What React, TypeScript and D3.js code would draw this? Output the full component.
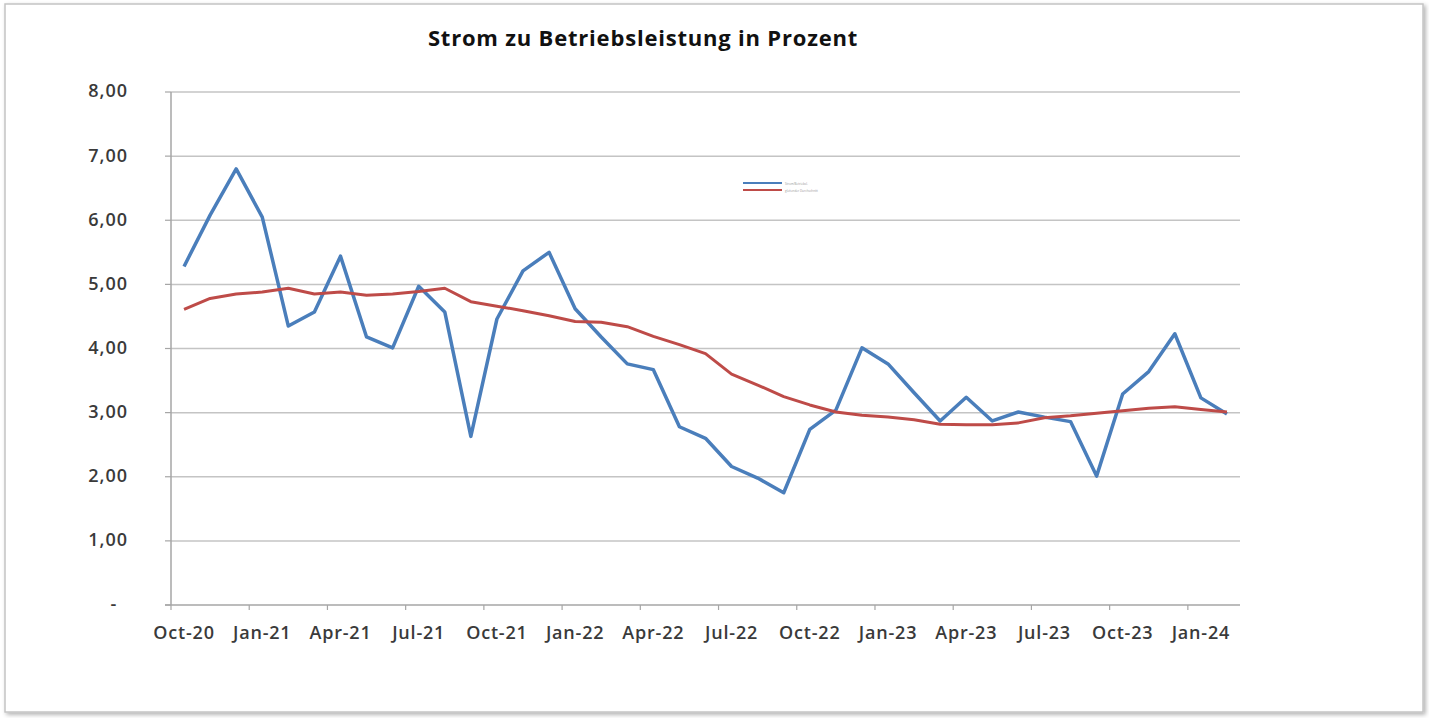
import * as d3 from "d3";
import { useEffect } from "react";

// months Oct-20 .. Feb-24
const months = [
  "Oct-20", "Nov-20", "Dec-20", "Jan-21", "Feb-21", "Mar-21", "Apr-21", "May-21", "Jun-21",
  "Jul-21", "Aug-21", "Sep-21", "Oct-21", "Nov-21", "Dec-21", "Jan-22", "Feb-22", "Mar-22",
  "Apr-22", "May-22", "Jun-22", "Jul-22", "Aug-22", "Sep-22", "Oct-22", "Nov-22", "Dec-22",
  "Jan-23", "Feb-23", "Mar-23", "Apr-23", "May-23", "Jun-23", "Jul-23", "Aug-23", "Sep-23",
  "Oct-23", "Nov-23", "Dec-23", "Jan-24", "Feb-24",
];

const stromProzent = [
  5.28, 6.08, 6.8, 6.05, 4.35, 4.57, 5.44, 4.18, 4.01, 4.97, 4.57, 2.63, 4.46, 5.21, 5.5,
  4.62, 4.18, 3.76, 3.67, 2.78, 2.6, 2.16, 1.98, 1.75, 2.74, 3.04, 4.01, 3.76, 3.31, 2.87,
  3.24, 2.87, 3.01, 2.93, 2.86, 2.01, 3.29, 3.64, 4.23, 3.23, 2.98,
];

const durchschnitt = [
  4.61, 4.78, 4.85, 4.88, 4.94, 4.85, 4.88, 4.83, 4.85, 4.89, 4.94, 4.73, 4.66, 4.59, 4.51,
  4.42, 4.41, 4.34, 4.19, 4.06, 3.92, 3.6, 3.43, 3.25, 3.12, 3.01, 2.96, 2.93, 2.89, 2.82,
  2.81, 2.81, 2.84, 2.92, 2.95, 2.99, 3.03, 3.07, 3.09, 3.05, 3.01,
];

const yTicks = [0, 1, 2, 3, 4, 5, 6, 7, 8];
const xTickLabels = months.filter((_, i) => i % 3 === 0);

const W = 1429;
const H = 718;
const plot = { left: 171, right: 1240, top: 92, bottom: 605 };
const labelFont = "'Open Sans', 'Liberation Sans', sans-serif";

export default function App() {
  useEffect(() => {
    document.body.style.margin = "0";
  }, []);

  const x = d3.scaleBand<string>().domain(months).range([plot.left, plot.right]);
  const y = d3.scaleLinear().domain([0, 8]).range([plot.bottom, plot.top]);
  const cx = (m: string) => (x(m) ?? 0) + x.bandwidth() / 2;

  const line = d3
    .line<number>()
    .x((_, i) => cx(months[i]))
    .y((d) => y(d));

  const fmt = (v: number) => (v === 0 ? "-" : v.toFixed(2).replace(".", ","));

  return (
    <svg width={W} height={H} style={{ position: "absolute", left: 0, top: 0, background: "#fff" }}>
      <defs>
        <filter id="shadow" x="-5%" y="-5%" width="110%" height="110%">
          <feDropShadow dx="2" dy="2" stdDeviation="2" floodColor="#000" floodOpacity="0.3" />
        </filter>
      </defs>

      {/* chart frame */}
      <rect x={5} y={4} width={1418} height={708} fill="#fff" stroke="#c4c4c4" strokeWidth={1.5} filter="url(#shadow)" />

      <text x={643} y={46} textAnchor="middle" fontFamily={labelFont} fontWeight="bold" fontSize={22} letterSpacing={0.8} fill="#111">
        Strom zu Betriebsleistung in Prozent
      </text>

      {/* gridlines + y labels */}
      {yTicks.map((t) => (
        <g key={t}>
          {t > 0 && (
            <line x1={plot.left} x2={plot.right} y1={y(t)} y2={y(t)} stroke="#c4c4c4" strokeWidth={1.5} />
          )}
          <line x1={plot.left - 6} x2={plot.left} y1={y(t)} y2={y(t)} stroke="#a6a6a6" strokeWidth={1.2} />
          <text
            x={t === 0 ? 114 : 128}
            y={y(t)}
            dy="0.3em"
            textAnchor={t === 0 ? "middle" : "end"}
            fontFamily={labelFont}
            fontWeight={600}
            fontSize={18}
            letterSpacing={1}
            fill="#3a3a3a"
          >
            {fmt(t)}
          </text>
        </g>
      ))}

      {/* axes */}
      <line x1={plot.left} x2={plot.left} y1={plot.top} y2={plot.bottom} stroke="#a6a6a6" strokeWidth={1.5} />
      <line x1={plot.left - 6} x2={plot.right} y1={plot.bottom} y2={plot.bottom} stroke="#a6a6a6" strokeWidth={1.5} />

      {xTickLabels.map((m) => (
        <line key={"t" + m} x1={x(m)} x2={x(m)} y1={plot.bottom} y2={plot.bottom + 5} stroke="#a6a6a6" strokeWidth={1.2} />
      ))}
      {xTickLabels.map((m) => (
        <text key={m} x={cx(m)} y={639} textAnchor="middle" fontFamily={labelFont} fontWeight={600} fontSize={18} letterSpacing={0.8} fill="#3a3a3a">
          {m}
        </text>
      ))}

      <path d={line(stromProzent) ?? ""} fill="none" stroke="#4a7ebb" strokeWidth={3.5} strokeLinejoin="round" />
      <path d={line(durchschnitt) ?? ""} fill="none" stroke="#be4b48" strokeWidth={3} strokeLinejoin="round" />

      {/* tiny legend */}
      <g>
        <line x1={743} x2={782} y1={183} y2={183} stroke="#4a7ebb" strokeWidth={2} />
        <line x1={743} x2={782} y1={190} y2={190} stroke="#be4b48" strokeWidth={2} />
        <text x={785} y={184.5} fontFamily={labelFont} fontSize={3} fill="#999">Strom/Betriebsl.</text>
        <text x={785} y={191.5} fontFamily={labelFont} fontSize={3} fill="#999">gleitender Durchschnitt</text>
      </g>
    </svg>
  );
}
